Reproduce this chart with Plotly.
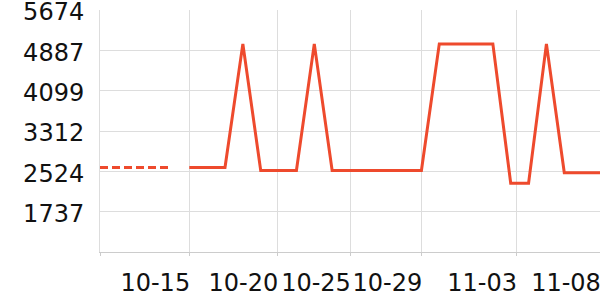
import plotly.graph_objects as go

# Data (index positions along the category axis)
dashed_values = [2600, 2600, 2600, 2600, 2600]  # indices 0..4
solid_values = [2600, 2600, 2600, 5013, 2541, 2541, 2541, 5013, 2541,
                2541, 2541, 2541, 2541, 2541, 5013, 5013, 5013, 5013,
                2293, 2293, 5013, 2496, 2496, 2496]  # indices 5..28
solid_start = 5

x_tick_positions = [0, 5, 9.93, 14, 18, 23.3, 28]
x_tick_labels = ["", "10-15", "10-20", "10-25", "10-29", "11-03", "11-08"]

y_tick_values = [1737, 2524, 3312, 4099, 4887, 5674]
y_min = 949.6
y_max = 5674

line_color = "#ee4a2d"

fig = go.Figure()
fig.add_trace(go.Scatter(
    x=list(range(len(dashed_values))), y=dashed_values, mode="lines",
    line=dict(color=line_color, width=3, dash="8px,4px"), showlegend=False,
))
fig.add_trace(go.Scatter(
    x=list(range(solid_start, solid_start + len(solid_values))), y=solid_values,
    mode="lines", line=dict(color=line_color, width=3), showlegend=False,
))

fig.update_layout(
    width=600, height=300,
    margin=dict(l=100, r=0, t=10, b=48),
    paper_bgcolor="white", plot_bgcolor="white",
    font=dict(family="DejaVu Sans", size=24, color="#111"),
    xaxis=dict(
        range=[0, 28], tickmode="array", tickvals=x_tick_positions,
        ticktext=x_tick_labels, showgrid=True, gridcolor="#dddddd", gridwidth=1,
        zeroline=False, showline=True, linecolor="#cccccc", linewidth=1,
        ticks="outside", ticklen=3, tickcolor="#cccccc", tickangle=0,
        ticklabelshift=-34, ticklabelstandoff=6, automargin=False,
        ticklabeloverflow="allow",
    ),
    yaxis=dict(
        range=[y_min, y_max + 0.5], tickmode="array", tickvals=y_tick_values,
        ticktext=[str(v) for v in y_tick_values],
        showgrid=True, gridcolor="#dddddd", gridwidth=1,
        zeroline=False, showline=True, linecolor="#dddddd", linewidth=1,
        ticks="", ticklabelstandoff=10, ticklabelshift=2, automargin=False,
        ticklabeloverflow="allow",
    ),
)

fig.write_html("out.html")
